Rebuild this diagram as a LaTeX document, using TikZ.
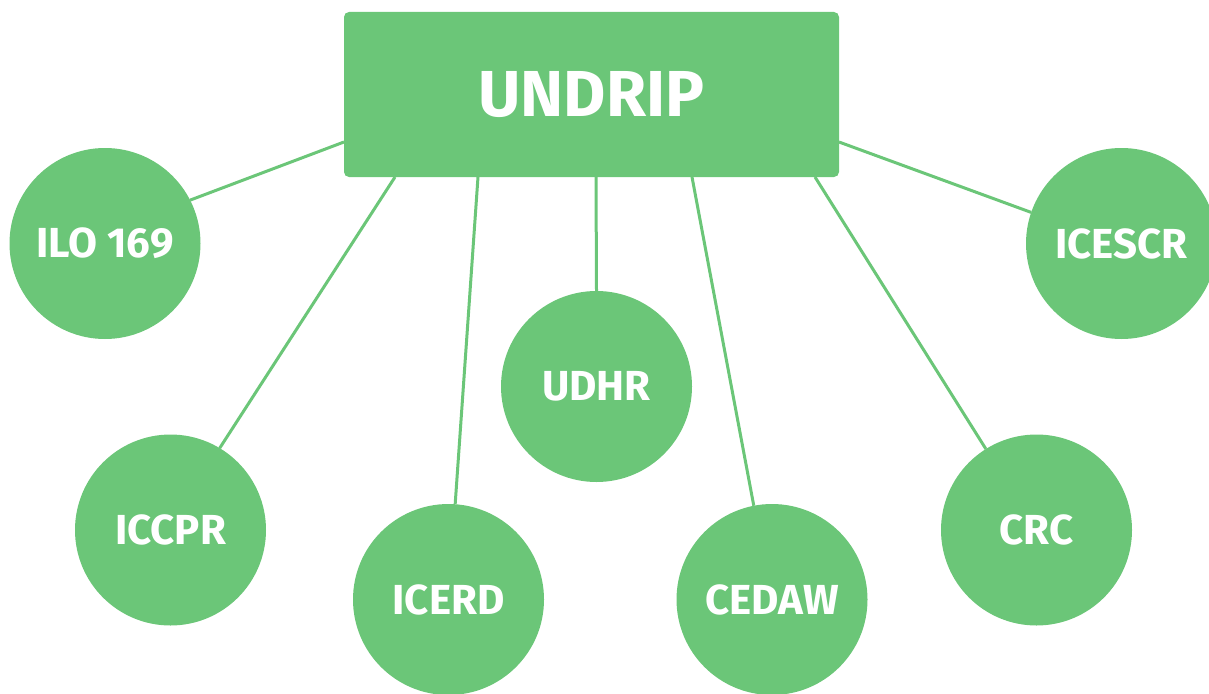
\documentclass[tikz,border=0pt]{standalone}
\usepackage{fontspec}
\setmainfont{Fira Sans}
\definecolor{undripgreen}{HTML}{6BC678}
\begin{document}
\begin{tikzpicture}[x=1pt,y=-1pt,
  treaty/.style={circle, fill=undripgreen, minimum size=191pt, inner sep=0pt, outer sep=0pt,
    text=white, font=\fontsize{42}{42}\selectfont\bfseries},
  hub/.style={rectangle, rounded corners=5pt, fill=undripgreen, minimum width=495pt, minimum height=165pt,
    inner sep=0pt, outer sep=0pt, text=white, font=\fontsize{65}{65}\selectfont\bfseries},
  link/.style={draw=undripgreen, line width=3pt}]
\useasboundingbox (0,0) rectangle (1209,693);
\node[hub] (undrip) at (591.5,94.5) {UNDRIP};
\node[treaty] (ilo) at (105,243.5) {ILO 169};
\node[treaty] (iccpr) at (170.5,530) {ICCPR};
\node[treaty] (icerd) at (448.5,599.5) {ICERD};
\node[treaty] (udhr) at (596.5,386.5) {UDHR};
\node[treaty] (cedaw) at (772,599.5) {CEDAW};
\node[treaty] (crc) at (1036.5,530) {CRC};
\node[treaty] (icescr) at (1121.5,243.5) {ICESCR};
\coordinate (pL) at ([yshift=35pt]undrip.south west);
\coordinate (p1) at ([xshift=51pt]undrip.south west);
\coordinate (p2) at ([xshift=134pt]undrip.south west);
\coordinate (p3) at ([xshift=252pt]undrip.south west);
\coordinate (p4) at ([xshift=348pt]undrip.south west);
\coordinate (p5) at ([xshift=471pt]undrip.south west);
\coordinate (pR) at ([yshift=35pt]undrip.south east);
\draw[link] (pL) -- (ilo.27);
\draw[link] (p1) -- (iccpr.59);
\draw[link] (p2) -- (icerd.86);
\draw[link] (p3) -- (udhr.90);
\draw[link] (p4) -- (cedaw.101);
\draw[link] (p5) -- (crc.122);
\draw[link] (pR) -- (icescr.161);
\end{tikzpicture}
\end{document}
